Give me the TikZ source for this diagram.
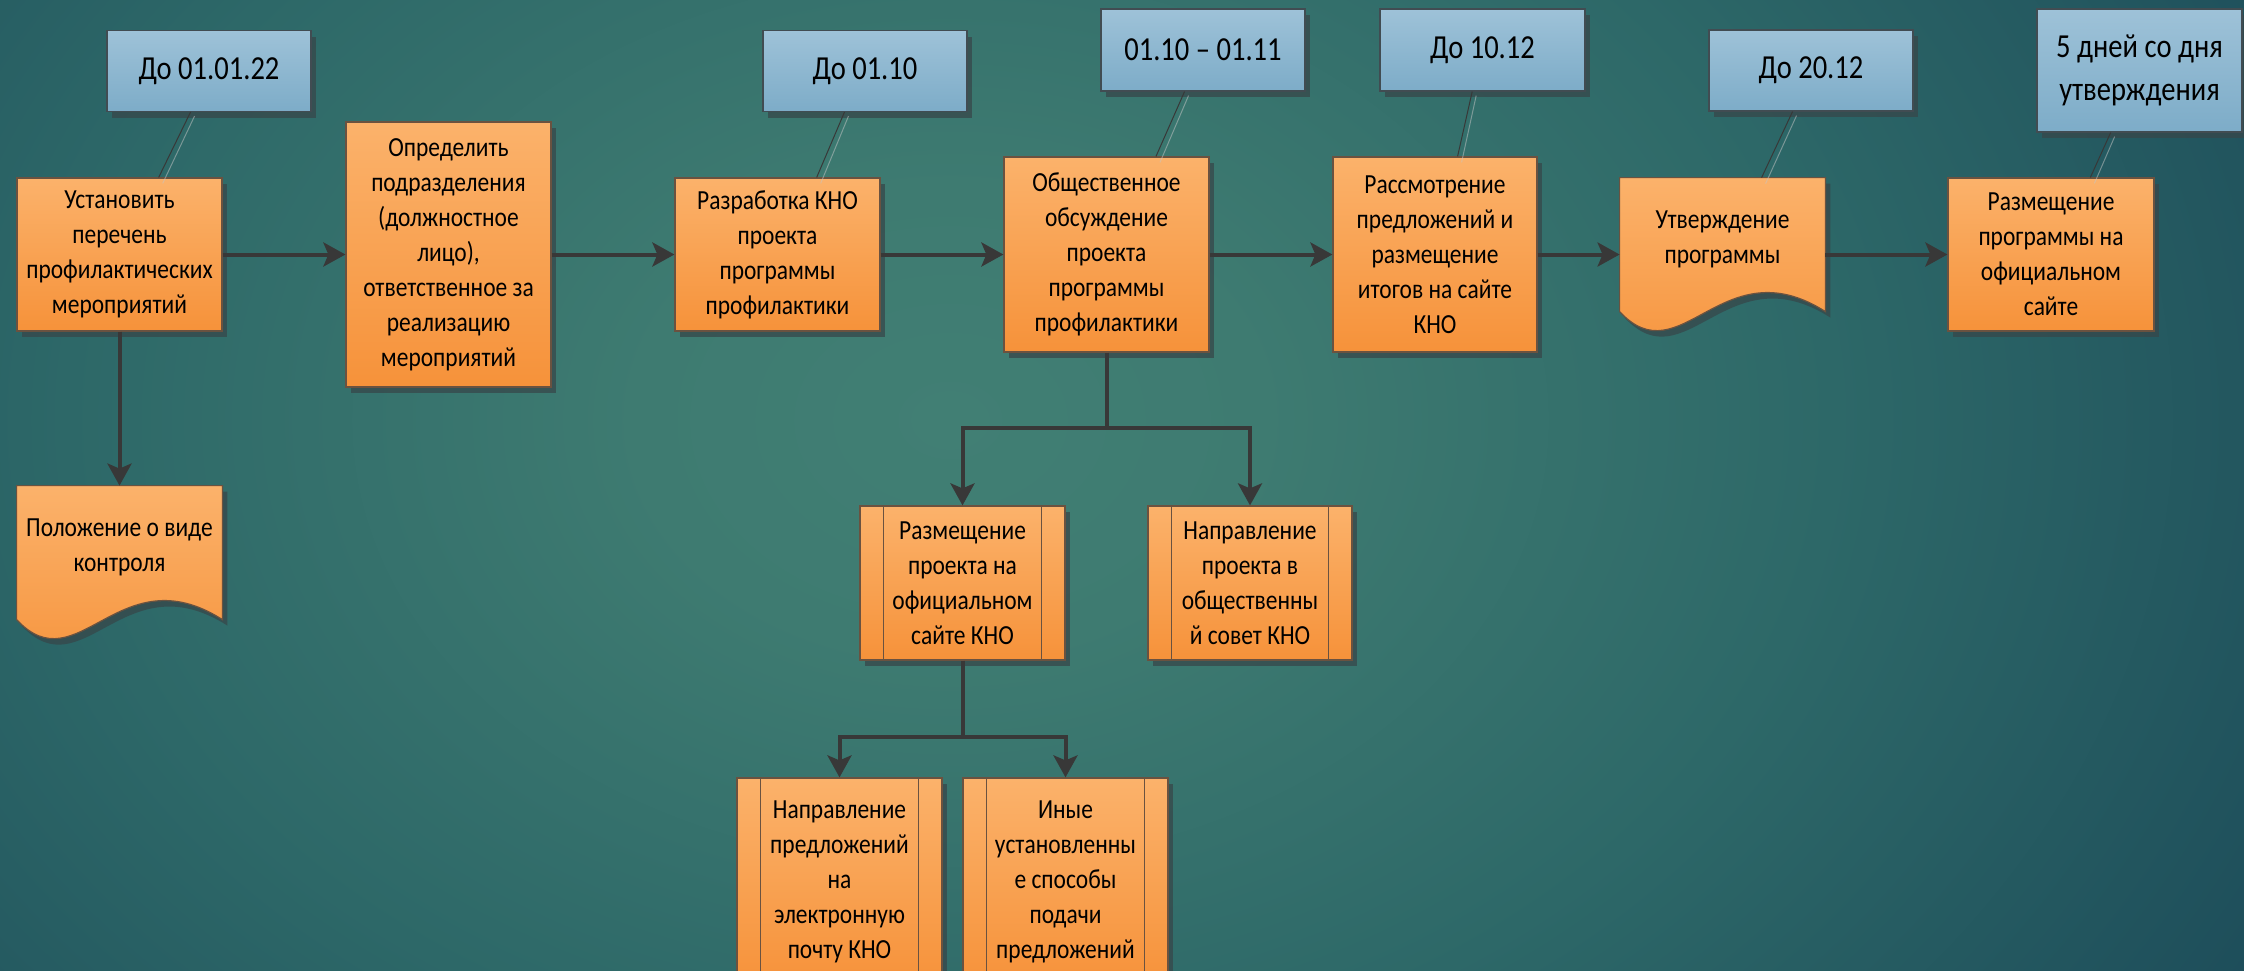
\documentclass[tikz,border=0pt]{standalone}
\usepackage{fontspec}
\setmainfont{Carlito}[FakeStretch=0.85]
\usetikzlibrary{calc,shadows,arrows.meta}

\definecolor{orTop}{HTML}{FBB26B}
\definecolor{orBot}{HTML}{F6923A}
\definecolor{orLine}{HTML}{6A5240}
\definecolor{blTop}{HTML}{9EC2D8}
\definecolor{blBot}{HTML}{7DACC8}
\definecolor{blLine}{HTML}{414C52}
\definecolor{arrCol}{HTML}{383838}
\definecolor{shCol}{HTML}{37474A}
\definecolor{bgA}{HTML}{417F74}
\definecolor{bgA2}{HTML}{3E7B71}
\definecolor{bgB}{HTML}{2D6868}
\definecolor{bgC}{HTML}{1C4B59}
\definecolor{bgD}{HTML}{133849}

\pgfdeclareradialshading{bgshade}{\pgfpoint{0bp}{0bp}}{color(0bp)=(bgA); color(6bp)=(bgA2); color(17bp)=(bgB); color(30bp)=(bgC); color(42bp)=(bgD); color(50bp)=(bgD)}

\pgfdeclarelayer{bglayer}
\pgfdeclarelayer{shapelayer}
\pgfsetlayers{bglayer,shapelayer,main}

\tikzset{
  sz/.style 2 args={minimum width=#1*0.5pt, minimum height=#2*0.5pt},
  shad/.style={drop shadow={shadow xshift=2.5pt, shadow yshift=-3pt, fill=shCol, opacity=0.75}},
  box/.style={rectangle, inner sep=0pt, align=center, text=black},
  obox/.style={box, draw=orLine, line width=0.6pt, top color=orTop, bottom color=orBot, shad,
    font=\fontsize{13.8}{17.5}\selectfont},
  otext/.style={box, draw=none, font=\fontsize{13.8}{17.5}\selectfont},
  docfill/.style={draw=orLine, line width=0.6pt, top color=orTop, bottom color=orBot, shad},
  bbox/.style={box, draw=blLine, line width=0.6pt, top color=blTop, bottom color=blBot, shad,
    font=\fontsize{16.8}{21.5}\selectfont},
  arr/.style={draw=arrCol, line width=2pt, -{Stealth[length=11pt, width=12pt, inset=2.5pt]}},
  conn/.style={draw=arrCol, line width=0.5pt},
  connsh/.style={draw=white!55!gray, line width=0.5pt, opacity=0.5},
  ppline/.style={draw=orLine, line width=0.6pt},
}

\begin{document}
\begin{tikzpicture}[x=0.5pt,y=-0.5pt]
\useasboundingbox (0,0) rectangle (2244,970);
\begin{scope}
\clip (0,0) rectangle (2244,970);
\begin{pgfonlayer}{bglayer}
  \shade[shading=bgshade] (-350,-550) rectangle (2250,1390);
\end{pgfonlayer}

% blue date boxes
\node[bbox, sz={204}{81}]  (b1) at (209,71)     {До 01.01.22};
\node[bbox, sz={204}{81}]  (b2) at (865,71)     {До 01.10};
\node[bbox, sz={204}{82}]  (b3) at (1203,50)    {01.10 – 01.11};
\node[bbox, sz={205}{82}]  (b4) at (1482.5,50)  {До 10.12};
\node[bbox, sz={204}{81}]  (b5) at (1811,70.5)  {До 20.12};
\node[bbox, sz={205}{123}] (b6) at (2139.5,70.5) {5 дней со дня\\утверждения};

% main row
\node[obox, sz={205}{153}] (A) at (119.5,254.5) {Установить\\перечень\\профилактических\\мероприятий};
\node[obox, sz={205}{265}] (B) at (448.5,254.5) {Определить\\подразделения\\(должностное\\лицо),\\ответственное за\\реализацию\\мероприятий};
\node[obox, sz={205}{153}] (C) at (777.5,254.5) {Разработка КНО\\проекта\\программы\\профилактики};
\node[obox, sz={205}{195}] (D) at (1106.5,254.5) {Общественное\\обсуждение\\проекта\\программы\\профилактики};
\node[obox, sz={204}{195}] (E) at (1435,254.5) {Рассмотрение\\предложений и\\размещение\\итогов на сайте\\КНО};
\node[otext, sz={205}{153}] (F) at (1722.5,254.5) {Утверждение\\программы\\~};
\node[obox, sz={206}{153}] (G) at (2051,254.5) {Размещение\\программы на\\официальном\\сайте};

% document under A
\node[otext, sz={205}{153}] (H) at (119.5,562.5) {Положение о виде\\контроля\\~};

% document shapes
\begin{pgfonlayer}{shapelayer}
\foreach \n in {F,H} {
  \path[docfill] (\n.north west) -- (\n.north east) -- ($(\n.north east)+(0,134)$)
    .. controls ($(\n.north west)+(102.5,68)$) and ($(\n.north west)+(61.5,200)$) .. ($(\n.north west)+(0,134)$) -- cycle;
}
\end{pgfonlayer}

% second level
\node[obox, sz={205}{154}] (I) at (962.5,583) {Размещение\\проекта на\\официальном\\сайте КНО};
\node[obox, sz={204}{154}] (J) at (1250,583) {Направление\\проекта в\\общественны\\й совет КНО};

% third level
\node[obox, sz={205}{207}] (K) at (839.5,881.5) {Направление\\предложений\\на\\электронную\\почту КНО};
\node[obox, sz={205}{207}] (L) at (1065.5,881.5) {Иные\\установленны\\е способы\\подачи\\предложений};

\foreach \n in {I,J,K,L} {
  \draw[ppline] ($(\n.north west)+(24,0)$) -- ($(\n.south west)+(24,0)$);
  \draw[ppline] ($(\n.north east)+(-24,0)$) -- ($(\n.south east)+(-24,0)$);
}

% thin connectors from dates
\foreach \bn/\bp/\on/\op in {b1/0.41/A/0.69, b2/0.40/C/0.69, b3/0.41/D/0.74, b4/0.45/E/0.61, b5/0.41/F/0.69, b6/0.36/G/0.69} {
  \draw[connsh] ($(\bn.south west)!\bp!(\bn.south east)+(4,4)$) -- ($(\on.north west)!\op!(\on.north east)+(4,6)$);
  \draw[conn] ($(\bn.south west)!\bp!(\bn.south east)$) -- ($(\on.north west)!\op!(\on.north east)$);
}

% main arrows
\draw[arr] (A.east) -- (B.west);
\draw[arr] (B.east) -- (C.west);
\draw[arr] (C.east) -- (D.west);
\draw[arr] (D.east) -- (E.west);
\draw[arr] (E.east) -- (F.west);
\draw[arr] (F.east) -- (G.west);
\draw[arr] (A.south) -- (H.north);

\coordinate (dsp) at (1106.5,428);
\draw[arr] (D.south) -- (D.south |- dsp) -| (I.north);
\draw[arr] (D.south |- dsp) -| (J.north);

\coordinate (isp) at (962.5,737);
\draw[arr] (I.south) -- (I.south |- isp) -| (K.north);
\draw[arr] (I.south |- isp) -| (L.north);
\end{scope}
\end{tikzpicture}
\end{document}
